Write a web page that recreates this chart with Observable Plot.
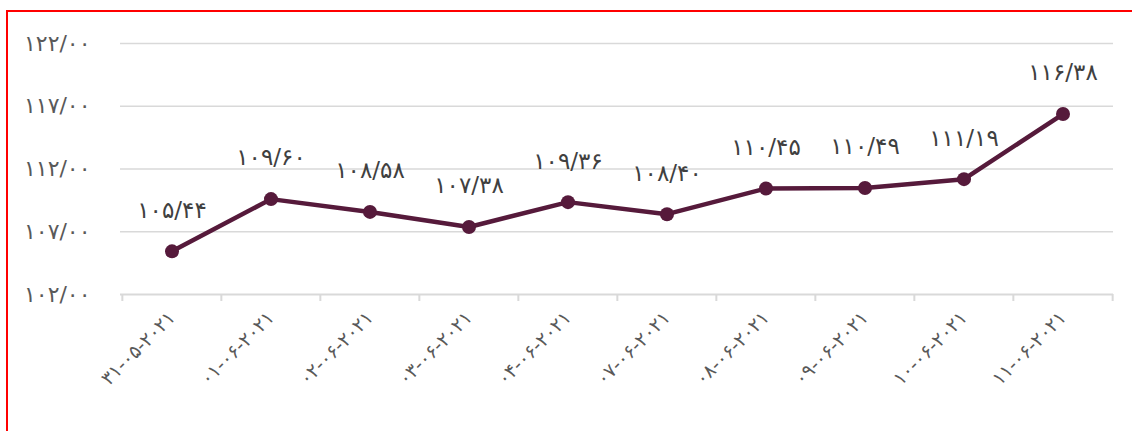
<!DOCTYPE html>
<html>
<head>
<meta charset="utf-8">
<script src="https://cdn.jsdelivr.net/npm/d3@7"></script>
<script src="https://cdn.jsdelivr.net/npm/@observablehq/plot@0.6"></script>
<style>
  html, body { margin: 0; padding: 0; background: #fff; width: 1132px; height: 431px; overflow: hidden; }
  #frame { position: absolute; left: 6px; top: 10px; width: 1200px; height: 500px; border-top: 2px solid #ff0000; border-left: 2px solid #ff0000; }
  #chart { position: absolute; left: 0; top: 0; }
  #chart svg [aria-label^="y-axis"] text { font-size: 22px; }
  #chart svg [aria-label^="x-axis"] text { font-size: 19px; }
</style>
</head>
<body>
<div id="frame"></div>
<div id="chart"></div>
<script>
const dates = ["31-05-2021","01-06-2021","02-06-2021","03-06-2021","04-06-2021","07-06-2021","08-06-2021","09-06-2021","10-06-2021","11-06-2021"];
const values = [105.44, 109.60, 108.58, 107.38, 109.36, 108.40, 110.45, 110.49, 111.19, 116.38];
const yTicks = [102, 107, 112, 117, 122];

const faDigits = "۰۱۲۳۴۵۶۷۸۹";
const toFa = s => String(s).replace(/[0-9]/g, d => faDigits[+d]);
const fmt = v => toFa(d3.format(".2f")(v).replace(".", "/"));

const data = dates.map((d, i) => ({date: d, value: values[i]}));

const W = 1132, H = 431, ML = 120, MR = 19, MT = 43, MB = 137;
const bw = (W - ML - MR) / dates.length;
const plotH = H - MT - MB;
const axisColor = "#d9d9d9";
const lineColor = "#561a3b";

const chart = Plot.plot({
  width: W, height: H,
  marginLeft: ML, marginRight: MR, marginTop: MT, marginBottom: MB,
  style: {fontFamily: "DejaVu Sans, sans-serif", fontSize: "19px", color: "#595959", background: "transparent", overflow: "visible"},
  x: {type: "band", domain: dates, padding: 0, tickFormat: toFa, tickRotate: -45, tickSize: 0, tickPadding: 20, label: null},
  y: {domain: [102, 122], ticks: yTicks, tickFormat: fmt, tickSize: 0, tickPadding: 30, label: null},
  marks: [
    Plot.ruleY(yTicks.slice(1), {stroke: axisColor, strokeWidth: 1.5}),
    Plot.ruleY([yTicks[0]], {stroke: axisColor, strokeWidth: 2}),
    Plot.ruleX(dates, {stroke: axisColor, strokeWidth: 2, insetTop: plotH, insetBottom: -7, dx: -bw / 2}),
    Plot.ruleX(dates.slice(-1), {stroke: axisColor, strokeWidth: 2, insetTop: plotH, insetBottom: -7, dx: bw / 2}),
    Plot.line(data, {x: "date", y: "value", stroke: lineColor, strokeWidth: 4.5}),
    Plot.dot(data, {x: "date", y: "value", r: 7, fill: lineColor}),
    Plot.text(data, {x: "date", y: "value", text: d => fmt(d.value), dy: -41, fontSize: 23, fill: "#404040"})
  ]
});
document.getElementById("chart").appendChild(chart);
</script>
</body>
</html>
